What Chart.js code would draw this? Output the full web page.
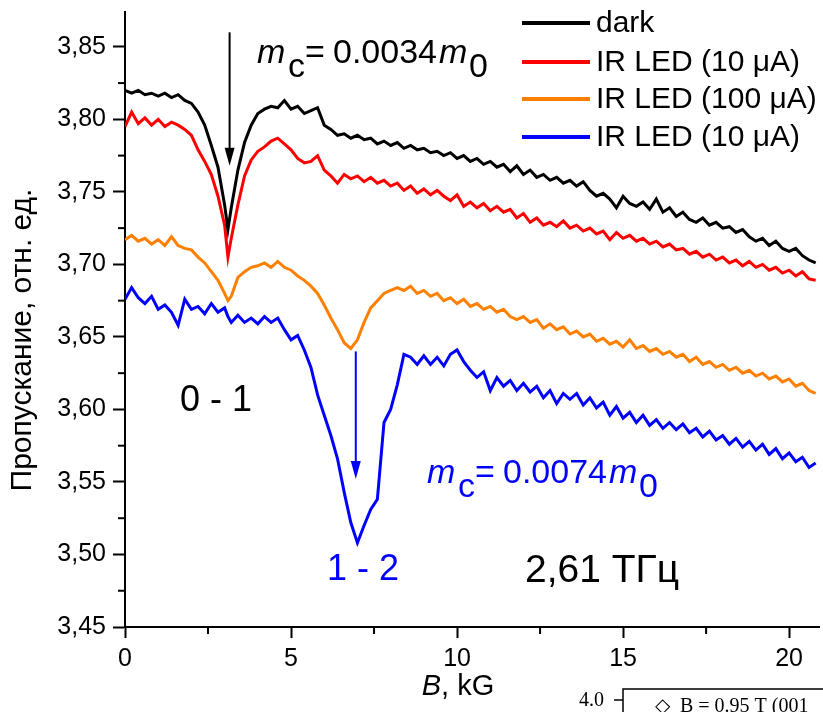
<!DOCTYPE html>
<html><head><meta charset="utf-8">
<script src="https://cdn.jsdelivr.net/npm/chart.js@4.4.0/dist/chart.umd.min.js"></script>
<style>html,body{margin:0;padding:0;background:#fff;overflow:hidden}</style>
</head><body>
<canvas id="c" width="823" height="712"></canvas>
<script>
// Magnetic field, kG
const fieldKG = [0,0.2,0.4,0.6,0.8,1,1.2,1.4,1.6,1.8,
2,2.2,2.4,2.6,2.8,3,3.1,3.2,3.4,3.6,
3.8,4,4.2,4.4,4.6,4.8,5,5.2,5.4,5.6,
5.8,6,6.2,6.4,6.6,6.8,7,7.2,7.4,7.6,
7.8,8,8.2,8.4,8.6,8.8,9,9.2,9.4,9.6,
9.8,10,10.2,10.4,10.6,10.8,11,11.2,11.4,11.6,
11.8,12,12.2,12.4,12.6,12.8,13,13.2,13.4,13.6,
13.8,14,14.2,14.4,14.6,14.8,15,15.2,15.4,15.6,
15.8,16,16.2,16.4,16.6,16.8,17,17.2,17.4,17.6,
17.8,18,18.2,18.4,18.6,18.8,19,19.2,19.4,19.6,
19.8,20,20.2,20.4,20.6,20.8];

const darkSeries = [3.820,3.818,3.820,3.817,3.818,3.816,3.818,3.815,3.817,3.813,
3.811,3.805,3.796,3.782,3.767,3.741,3.724,3.739,3.765,3.784,
3.796,3.804,3.807,3.809,3.808,3.813,3.807,3.809,3.804,3.806,
3.808,3.796,3.793,3.789,3.790,3.787,3.789,3.786,3.787,3.783,
3.785,3.782,3.784,3.780,3.782,3.779,3.780,3.777,3.778,3.775,
3.777,3.773,3.775,3.771,3.773,3.769,3.771,3.767,3.769,3.764,
3.768,3.762,3.765,3.760,3.762,3.758,3.760,3.756,3.758,3.754,
3.757,3.751,3.747,3.749,3.745,3.739,3.747,3.742,3.740,3.743,
3.738,3.745,3.736,3.739,3.733,3.736,3.731,3.729,3.732,3.727,
3.729,3.725,3.726,3.722,3.724,3.719,3.716,3.718,3.713,3.716,
3.711,3.709,3.711,3.706,3.703,3.701];

const led10Series = [3.795,3.805,3.797,3.801,3.796,3.800,3.795,3.798,3.796,3.793,
3.789,3.779,3.771,3.762,3.747,3.727,3.705,3.718,3.741,3.761,
3.772,3.778,3.781,3.785,3.787,3.783,3.779,3.773,3.770,3.771,
3.775,3.765,3.761,3.756,3.762,3.759,3.761,3.757,3.760,3.756,
3.758,3.754,3.756,3.751,3.754,3.749,3.752,3.748,3.751,3.747,
3.744,3.748,3.740,3.743,3.739,3.742,3.737,3.740,3.736,3.738,
3.732,3.735,3.729,3.732,3.727,3.729,3.726,3.730,3.725,3.727,
3.723,3.725,3.721,3.723,3.717,3.722,3.718,3.720,3.716,3.718,
3.714,3.716,3.712,3.714,3.710,3.711,3.707,3.709,3.705,3.707,
3.703,3.705,3.701,3.703,3.699,3.702,3.698,3.700,3.696,3.698,
3.694,3.696,3.692,3.695,3.690,3.689];

const led100Series = [3.717,3.720,3.716,3.718,3.714,3.717,3.713,3.719,3.713,3.711,
3.710,3.705,3.701,3.695,3.689,3.680,3.675,3.678,3.691,3.695,
3.698,3.699,3.701,3.698,3.702,3.698,3.696,3.692,3.689,3.685,
3.680,3.672,3.663,3.655,3.646,3.642,3.648,3.660,3.670,3.675,
3.680,3.682,3.684,3.682,3.685,3.680,3.682,3.678,3.680,3.675,
3.677,3.673,3.676,3.671,3.673,3.669,3.671,3.667,3.669,3.664,
3.662,3.664,3.660,3.662,3.656,3.659,3.655,3.657,3.652,3.654,
3.650,3.652,3.647,3.649,3.645,3.647,3.643,3.648,3.642,3.644,
3.640,3.642,3.638,3.640,3.636,3.638,3.633,3.636,3.631,3.633,
3.629,3.631,3.627,3.629,3.625,3.627,3.623,3.625,3.621,3.623,
3.619,3.621,3.616,3.618,3.613,3.611];

const led10bSeries = [3.676,3.684,3.677,3.673,3.678,3.669,3.672,3.667,3.658,3.676,
3.669,3.671,3.666,3.673,3.667,3.670,3.664,3.660,3.665,3.660,
3.663,3.659,3.664,3.660,3.663,3.655,3.648,3.651,3.641,3.629,
3.610,3.596,3.582,3.566,3.543,3.522,3.508,3.520,3.531,3.538,
3.591,3.600,3.617,3.638,3.636,3.631,3.637,3.631,3.636,3.630,
3.638,3.641,3.633,3.627,3.622,3.626,3.613,3.622,3.616,3.620,
3.613,3.618,3.612,3.616,3.608,3.613,3.604,3.611,3.607,3.611,
3.603,3.608,3.601,3.605,3.596,3.602,3.594,3.598,3.591,3.596,
3.589,3.593,3.587,3.591,3.586,3.590,3.584,3.587,3.581,3.585,
3.579,3.582,3.576,3.580,3.574,3.578,3.572,3.576,3.569,3.573,
3.566,3.570,3.564,3.567,3.560,3.563];

const seriesLabels = ['dark', 'IR LED (10 \u03BCA)', 'IR LED (100 \u03BCA)', 'IR LED (10 \u03BCA)'];
const seriesColors = ['#000000', '#ff0000', '#ff8000', '#0000ff'];

const xTickValues = [0, 5, 10, 15, 20];
const xTickLabels = ['0', '5', '10', '15', '20'];
const xMinorTicks = [2.5, 7.5, 12.5, 17.5];
const yTickValues = [3.45, 3.50, 3.55, 3.60, 3.65, 3.70, 3.75, 3.80, 3.85];
const yTickLabels = ['3,45', '3,50', '3,55', '3,60', '3,65', '3,70', '3,75', '3,80', '3,85'];
const yMinorTicks = [3.475, 3.525, 3.575, 3.625, 3.675, 3.725, 3.775, 3.825];

// arrows: [B, from value, to value]
const arrow1 = [3.15, 3.860, 3.768];
const arrow2 = [6.95, 3.640, 3.552];

const FONT = "'Liberation Sans', Arial, sans-serif";

function mk(vals) { return fieldKG.map((b, i) => ({x: b, y: vals[i]})); }
const allSeries = [darkSeries, led10Series, led100Series, led10bSeries];

function txt(ctx, s, x, y, font, color, align) {
  ctx.font = font; ctx.fillStyle = color; ctx.textAlign = align || 'left';
  ctx.textBaseline = 'alphabetic'; ctx.fillText(s, x, y);
}
function arrow(ctx, xs, ys, a, color) {
  const x = xs.getPixelForValue(a[0]);
  const y0 = ys.getPixelForValue(a[1]);
  const y1 = ys.getPixelForValue(a[2]);
  ctx.strokeStyle = color; ctx.fillStyle = color; ctx.lineWidth = 2;
  ctx.beginPath(); ctx.moveTo(x, y0); ctx.lineTo(x, y1 - 10); ctx.stroke();
  ctx.beginPath(); ctx.moveTo(x - 5, y1 - 18); ctx.lineTo(x + 5, y1 - 18); ctx.lineTo(x, y1); ctx.closePath(); ctx.fill();
}

const deco = {
  id: 'deco',
  afterDraw(chart) {
    const ctx = chart.ctx, xs = chart.scales.x, ys = chart.scales.y, ca = chart.chartArea;
    ctx.save();
    ctx.strokeStyle = '#000'; ctx.lineWidth = 2;
    yMinorTicks.forEach(v => { const p = ys.getPixelForValue(v); ctx.beginPath(); ctx.moveTo(ca.left - 7, p); ctx.lineTo(ca.left, p); ctx.stroke(); });
    xMinorTicks.forEach(v => { const p = xs.getPixelForValue(v); ctx.beginPath(); ctx.moveTo(p, ca.bottom); ctx.lineTo(p, ca.bottom + 7); ctx.stroke(); });

    // axis titles
    ctx.font = 'italic 29px ' + FONT;
    const wB = ctx.measureText('B').width;
    ctx.font = '29px ' + FONT;
    const wR = ctx.measureText(', kG').width;
    const cx = 458, x0 = cx - (wB + wR) / 2;
    txt(ctx, 'B', x0, 695, 'italic 29px ' + FONT, '#000');
    txt(ctx, ', kG', x0 + wB, 695, '29px ' + FONT, '#000');

    ctx.save();
    ctx.translate(31, 340); ctx.rotate(-Math.PI / 2);
    txt(ctx, 'Пропускание, отн. ед.', 0, 0, '30px ' + FONT, '#000', 'center');
    ctx.restore();

    // legend
    const rows = [23, 62, 99, 137];
    seriesLabels.forEach((l, i) => {
      ctx.strokeStyle = seriesColors[i]; ctx.lineWidth = 4;
      ctx.beginPath(); ctx.moveTo(522, rows[i]); ctx.lineTo(590, rows[i]); ctx.stroke();
      ctx.font = '30px ' + FONT; ctx.fillStyle = '#000'; ctx.textAlign = 'left'; ctx.textBaseline = 'middle';
      ctx.fillText(l, 596, rows[i] + 1);
    });

    // arrows
    arrow(ctx, xs, ys, arrow1, '#000');
    arrow(ctx, xs, ys, arrow2, '#0000ff');

    // formula annotations
    const F = '34px ' + FONT, FI = 'italic 34px ' + FONT;
    const formula = (dx, dy, num, col) => {
      txt(ctx, 'm', 257 + dx, 63 + dy, FI, col);
      txt(ctx, 'c', 288 + dx, 77 + dy, F, col);
      txt(ctx, '=', 305 + dx, 63 + dy, F, col);
      txt(ctx, num, 333 + dx, 63 + dy, F, col);
      txt(ctx, 'm', 439 + dx, 63 + dy, FI, col);
      txt(ctx, '0', 469 + dx, 77 + dy, F, col);
    };
    formula(0, 0, '0.0034', '#000');
    formula(170, 420, '0.0074', '#0000ff');

    txt(ctx, '0 - 1', 180, 411, '36px ' + FONT, '#000');
    txt(ctx, '1 - 2', 327, 580, '36px ' + FONT, '#0000ff');
    txt(ctx, '2,61 ТГц', 525, 582, '39px ' + FONT, '#000');

    // fragment of neighbouring figure at bottom right
    ctx.strokeStyle = '#000'; ctx.lineWidth = 1.5;
    ctx.beginPath(); ctx.moveTo(623, 712); ctx.lineTo(623, 689); ctx.lineTo(823, 689); ctx.stroke();
    ctx.beginPath(); ctx.moveTo(614, 700); ctx.lineTo(623, 700); ctx.stroke();
    txt(ctx, '4.0', 604, 706, "20px 'Liberation Serif', serif", '#000', 'right');
    txt(ctx, '\u25C7  B = 0.95 T (001', 655, 712, "20px 'Liberation Serif', serif", '#000');
    ctx.restore();
  }
};

new Chart(document.getElementById('c'), {
  type: 'line',
  data: {
    datasets: allSeries.map((s, i) => ({
      label: seriesLabels[i], data: mk(s), borderColor: seriesColors[i],
      borderWidth: 3, pointRadius: 0, tension: 0, fill: false
    }))
  },
  options: {
    responsive: false, animation: false, devicePixelRatio: 1,
    layout: {padding: {top: 12, right: 4, left: 0, bottom: 0}},
    plugins: {legend: {display: false}, tooltip: {enabled: false}},
    scales: {
      x: {
        type: 'linear', min: 0, max: 20.9,
        afterFit(s) { s.height = 85; s.paddingLeft = 0; s.paddingRight = 0; },
        afterBuildTicks(s) { s.ticks = xTickValues.map(v => ({value: v})); },
        ticks: {callback: (v, i) => xTickLabels[i], font: {family: FONT, size: 25}, color: '#000', padding: 6, maxRotation: 0, autoSkip: false},
        grid: {display: true, drawOnChartArea: false, drawTicks: true, tickLength: 11, tickWidth: 2, tickColor: '#000'},
        border: {display: true, color: '#000', width: 2}
      },
      y: {
        type: 'linear', min: 3.45, max: 3.874,
        afterFit(s) { s.width = 125; s.paddingTop = 0; s.paddingBottom = 0; },
        afterBuildTicks(s) { s.ticks = yTickValues.map(v => ({value: v})); },
        ticks: {callback: (v, i) => yTickLabels[i], font: {family: FONT, size: 25}, color: '#000', padding: 7, autoSkip: false},
        grid: {display: true, drawOnChartArea: false, drawTicks: true, tickLength: 12, tickWidth: 2, tickColor: '#000'},
        border: {display: true, color: '#000', width: 2}
      }
    }
  },
  plugins: [deco]
});
</script>
</body></html>
